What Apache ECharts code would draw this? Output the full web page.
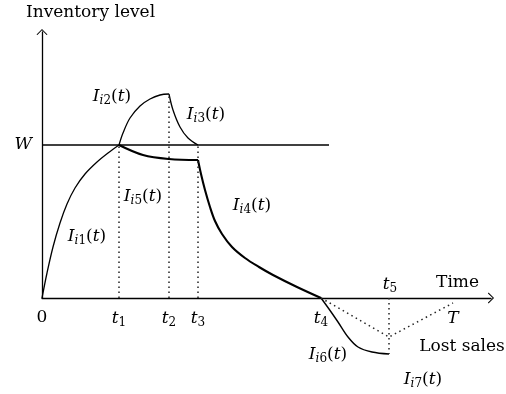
<!DOCTYPE html>
<html>
<head>
<meta charset="UTF-8">
<title>Inventory level</title>
<script src="https://cdn.jsdelivr.net/npm/echarts@6/dist/echarts.min.js"></script>
</head>
<body style="margin:0; background:#fff;">
<div id="chart" style="width:506px; height:394px;"></div>
<script>
// key instants on the time axis and the warehouse capacity W
var t1 = 77, t2 = 127, t3 = 156, t4 = 279, t5 = 347, T = 411;
var W = 153;

var tickValues = [0, t1, t2, t3, t4, T];
var tickNames = ['0', 't1', 't2', 't3', 't4', 'T'];

// inventory curves [time, level]
var I1 = [[0, 0], [5, 25], [11, 51], [18, 75], [25, 94], [33, 110], [43, 124], [55, 136], [66, 145], [77, 153]];
var I2 = [[77, 153], [81, 165], [88, 180], [98, 192], [108, 199], [118, 203], [127, 204]];
var I3 = [[127, 204], [131, 188], [138, 171], [146, 160], [156, 153]];
var I5 = [[77, 153], [101, 143], [127, 139], [156, 138]];
var I4 = [[156, 138], [159, 124], [163, 108], [168, 91], [173, 77], [180, 64], [190, 51], [203, 40], [217, 31], [231, 23], [255, 11], [279, 0]];
var I6 = [[279, 0], [287, -11], [296, -24], [306, -39], [316, -49], [330, -54], [347, -56]];
var lostSales = [[279, 0], [347, -39], [411, -5]];
var capacity = [[0, W], [287, W]];

// dotted guides
var guides = [
    [[t1, 0], [t1, W]],
    [[t2, 0], [t2, 204]],
    [[t3, 0], [t3, W]],
    [[t5, 0], [t5, -56]]
];

// annotations [time, level, text]
var notes = [
    [70, 201, 'I2'],
    [164, 183, 'I3'],
    [101, 101, 'I5'],
    [45, 61, 'I1'],
    [210, 92, 'I4'],
    [286, -57, 'I6'],
    [381, -82, 'I7'],
    [348, 13, 't5'],
    [420, -49, 'Lost sales']
];

var FONT = 'DejaVu Serif';
var INK = '#000';

function richName(s) {
    if (s === '0' || s === 'Lost sales') return s;
    if (s === 'T') return '{it|T}';
    if (s.charAt(0) === 't') return '{it|t}{sn|' + s.slice(1) + '}';
    return '{it|I}{si|i}{sn|' + s.slice(1) + '}{p|(}{it|t}{p|)}';
}

var rich = {
    it: {fontFamily: FONT, fontStyle: 'italic', fontSize: 17, lineHeight: 20, color: INK},
    p: {fontFamily: FONT, fontSize: 17, lineHeight: 20, color: INK},
    si: {fontFamily: FONT, fontStyle: 'italic', fontSize: 12, lineHeight: 11, verticalAlign: 'bottom', color: INK},
    sn: {fontFamily: FONT, fontSize: 12, lineHeight: 11, verticalAlign: 'bottom', color: INK}
};

var chevron = 'path://M0,0 L10,10 L8.4,11 L0,2.4 L-8.4,11 L-10,10 Z';

function curve(data, width, smooth) {
    return {
        type: 'line', data: data, symbol: 'none', smooth: smooth,
        clip: false, silent: true,
        lineStyle: {color: INK, width: width}
    };
}

function dotted(data) {
    return {
        type: 'line', data: data, symbol: 'none', clip: false, silent: true,
        lineStyle: {color: '#222', width: 1.5, type: [1.5, 3.5]}
    };
}

var series = [
    curve(capacity, 1.3, false),
    curve(I1, 1.3, 0.35),
    curve(I2, 1.3, 0.35),
    curve(I3, 1.3, 0.35),
    curve(I5, 2.1, 0.35),
    curve(I4, 2.1, 0.35),
    curve(I6, 1.4, 0.35)
];

guides.forEach(function (g) {
    series.push(dotted(g));
});
series.push(dotted(lostSales));

series.push({
    type: 'scatter', symbolSize: 0, clip: false, silent: true,
    itemStyle: {opacity: 1},
    data: notes.map(function (n) { return {value: [n[0], n[1]], name: n[2]}; }),
    label: {
        show: true, position: 'inside', align: 'center', verticalAlign: 'middle',
        fontFamily: FONT, fontSize: 17, color: INK,
        formatter: function (p) { return richName(p.name); },
        rich: rich
    }
});

var chart = echarts.init(document.getElementById('chart'), null, {renderer: 'canvas'});
chart.setOption({
    animation: false,
    backgroundColor: '#fff',
    title: {
        text: 'Inventory level', left: 26, top: 4, padding: 0,
        textStyle: {fontFamily: FONT, fontSize: 17, fontWeight: 'normal', color: INK}
    },
    grid: {left: 42, right: 15, top: 32, bottom: 96},
    xAxis: {
        type: 'value', min: 0, max: 449,
        name: 'Time', nameLocation: 'end', nameGap: -12,
        nameTextStyle: {fontFamily: FONT, fontSize: 17, color: INK, align: 'right', verticalAlign: 'bottom', padding: [0, 0, 7, 0]},
        axisLine: {lineStyle: {color: INK, width: 1.3}, symbol: ['none', chevron], symbolSize: [11, 7]},
        axisTick: {show: false},
        splitLine: {show: false},
        axisLabel: {
            customValues: tickValues, margin: 11,
            fontFamily: FONT, fontSize: 17, color: INK,
            formatter: function (v) { return richName(tickNames[tickValues.indexOf(v)]); },
            rich: rich
        }
    },
    yAxis: {
        type: 'value', min: 0, max: 266,
        axisLine: {show: true, lineStyle: {color: INK, width: 1.3}, symbol: ['none', chevron], symbolSize: [11, 7]},
        axisTick: {show: false},
        splitLine: {show: false},
        axisLabel: {
            customValues: [W], margin: 10,
            formatter: function () { return '{it|W}'; },
            rich: rich
        }
    },
    series: series
});
</script>
</body>
</html>
